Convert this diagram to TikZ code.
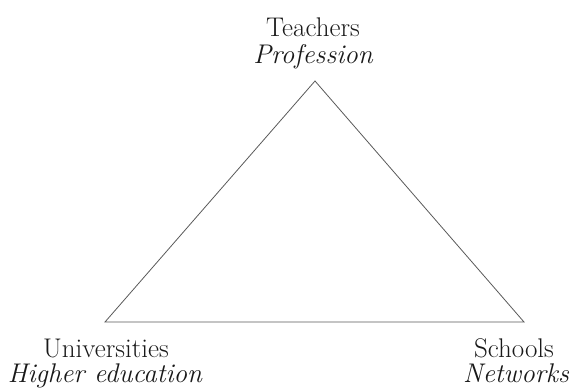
\documentclass[tikz,border=0pt]{standalone}
\usepackage{tikz}

\begin{document}
\begin{tikzpicture}[x=1pt,y=-1pt,
	role/.style={anchor=base,inner sep=0pt,text=black!90,font=\fontsize{27}{30}\selectfont},
	field/.style={role,font=\fontsize{27}{30}\selectfont\itshape}]
\useasboundingbox (0,0) rectangle (573,390);

\coordinate (T) at (315,81);
\coordinate (U) at (105,322);
\coordinate (S) at (524,322);

\node[role] (teachers) at (313,37) {Teachers};
\node[field] (profession) at (313,64) {Profession};
\node[role] (universities) at (106,357) {Universities};
\node[field] (higher) at (105,382) {Higher education};
\node[role] (schools) at (514,357) {Schools};
\node[field] (networks) at (516,382) {Networks};

\draw[black!65, line width=0.8pt]
	(T) -- (S) -- (U) -- cycle;

\end{tikzpicture}
\end{document}
